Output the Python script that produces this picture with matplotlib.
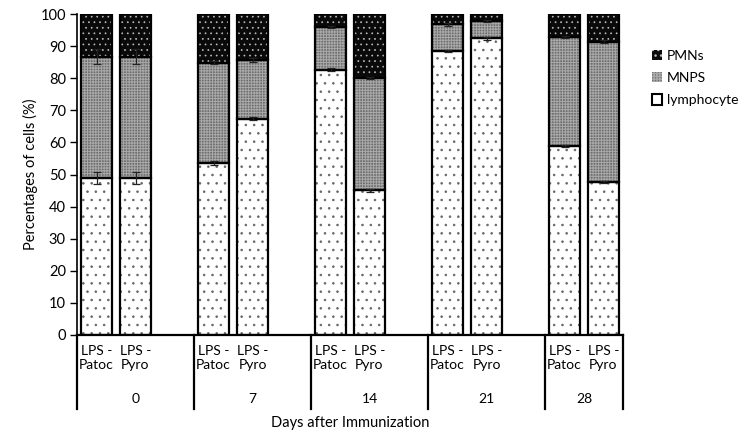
import matplotlib
matplotlib.use("Agg")
import matplotlib.pyplot as plt
from matplotlib.patches import Patch
from matplotlib.lines import Line2D
import numpy as np

plt.rcParams['font.family'] = ['Lato', 'DejaVu Sans']

days = ['0', '7', '14', '21', '28']
groups = ['LPS -\nPatoc', 'LPS -\nPyro']
series_names = ['lymphocyte', 'MNPS', 'PMNs']

# values per bar, order: day0 Patoc, day0 Pyro, day7 Patoc, ...
lymphocyte = [48.9, 48.9, 53.5, 67.4, 82.6, 45.1, 88.5, 92.4, 59.0, 47.6]
mnps = [37.8, 37.8, 31.3, 18.3, 13.4, 35.0, 8.3, 5.5, 33.9, 43.8]
pmns = [13.3, 13.3, 15.2, 14.3, 4.0, 19.9, 3.2, 2.1, 7.1, 8.6]
lymph_err = [2.0, 2.0, 0.6, 0.5, 0.5, 0.5, 0.4, 0.4, 0.3, 0.4]
mnps_err = [2.3, 2.3, 0.5, 0.5, 0.4, 0.4, 0.4, 0.3, 0.4, 0.5]

fig = plt.figure(figsize=(7.44, 4.43), dpi=100)
W, H = 744, 443
ax = fig.add_axes([77 / W, (H - 335) / H, (623 - 77) / W, (335 - 14) / H])

# slot positions: 3 slots per day (Patoc, Pyro, blank), last day without blank
xpos = []
for d in range(len(days)):
    xpos += [3 * d, 3 * d + 1]
xpos = np.array(xpos, dtype=float)

lymph = np.array(lymphocyte)
mn = np.array(mnps)
pm = np.array(pmns)
bw = 0.8

LY = dict(facecolor='white', edgecolor='#666666', hatch='..')
MN = dict(facecolor='#6f6f6f', edgecolor='#a9a9a9', hatch='++++++')
PM = dict(facecolor='#0a0a0a', edgecolor='#bdbdbd', hatch='...')

with plt.rc_context({'hatch.linewidth': 0.6}):
    ax.bar(xpos, lymph, bw, linewidth=0, zorder=1, **LY)
with plt.rc_context({'hatch.linewidth': 0.7}):
    ax.bar(xpos, mn, bw, bottom=lymph, linewidth=0, zorder=1, **MN)
with plt.rc_context({'hatch.linewidth': 0.5}):
    ax.bar(xpos, pm, bw, bottom=lymph + mn, linewidth=0, zorder=1, **PM)
# outlines
for vals, bottom in [(lymph, 0), (mn, lymph), (pm, lymph + mn)]:
    ax.bar(xpos, vals, bw, bottom=bottom, fill=False, edgecolor='black', linewidth=1.6, zorder=2)

ax.errorbar(xpos, lymph, yerr=lymph_err, fmt='none', ecolor='#222222', elinewidth=0.9, capsize=3, capthick=0.9, zorder=3)
ax.errorbar(xpos, lymph + mn, yerr=mnps_err, fmt='none', ecolor='#222222', elinewidth=0.9, capsize=3, capthick=0.9, zorder=3)

ax.set_xlim(-0.5, 13.5)
ax.set_ylim(0, 100)
ax.set_yticks(np.arange(0, 101, 10))
ax.tick_params(axis='y', direction='out', length=5, width=1, labelsize=10.5, pad=3)
ax.set_xticks([])
for s in ['top', 'right']:
    ax.spines[s].set_visible(False)
ax.spines['left'].set_linewidth(1.2)
ax.spines['bottom'].set_linewidth(1.6)
ax.set_ylabel('Percentages of cells (%)', fontsize=10.5, labelpad=2)

trans = ax.get_xaxis_transform()
ph = 335 - 14
# sub labels
for i, x in enumerate(xpos):
    ax.text(x, -(345 - 335) / ph, groups[i % 2], transform=trans, ha='center', va='top',
            fontsize=10, linespacing=1.2)
# day labels and separators
bounds = [-0.5, 2.5, 5.5, 8.5, 11.5, 13.5]
yb = -(409 - 335) / ph
for d, day in enumerate(days):
    c = (bounds[d] + bounds[d + 1]) / 2
    ax.text(c, -(399 - 335) / ph, day, transform=trans, ha='center', va='center', fontsize=10)
for b in bounds:
    ax.add_line(Line2D([b, b], [0, yb], transform=trans, color='black', linewidth=1.6, clip_on=False))

ax.text(0.5, -(423 - 335) / ph, 'Days after Immunization', transform=ax.transAxes,
        ha='center', va='center', fontsize=10.5)

handles = [
    Patch(linewidth=0, **PM),
    Patch(linewidth=0, **MN),
    Patch(facecolor='white', edgecolor='black', linewidth=1.5),
]
leg = fig.legend(handles, ['PMNs', 'MNPS', 'lymphocyte'], loc='upper left',
                 bbox_to_anchor=(639 / W, 1 - 37 / H), frameon=False, fontsize=10,
                 handlelength=0.75, handleheight=0.75, handletextpad=0.35, labelspacing=0.75)

fig.savefig('out.png', dpi=100)
